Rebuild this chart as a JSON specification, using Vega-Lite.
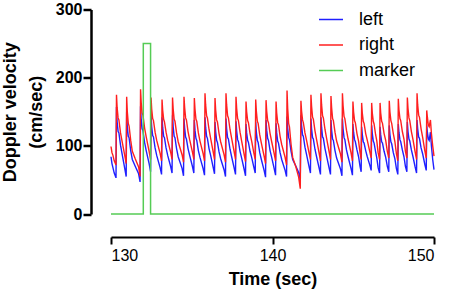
{
  "$schema": "https://vega.github.io/schema/vega-lite/v6.json",
  "autosize": "none",
  "width": 323,
  "height": 204.5,
  "padding": {"left": 111, "top": 9.5, "right": 16, "bottom": 80},
  "background": "white",
  "config": {
    "view": {"stroke": null},
    "font": "Liberation Sans",
    "axis": {"grid": false, "domainColor": "black", "tickColor": "black", "labelColor": "black", "titleColor": "black", "labelFont": "Liberation Sans", "titleFont": "Liberation Sans"}
  },
  "datasets": {
    "lr": [
      {"t":130.00,"left":84,"right":99},{"t":130.06,"left":74,"right":90},{"t":130.12,"left":68,"right":86},{"t":130.20,"left":60,"right":78},{"t":130.31,"left":53,"right":72},
      {"t":130.34,"left":157,"right":175},{"t":130.38,"left":135,"right":156},{"t":130.44,"left":121,"right":141},{"t":130.49,"left":119,"right":138},{"t":130.59,"left":101,"right":119},{"t":130.69,"left":88,"right":106},{"t":130.85,"left":67,"right":86},{"t":130.94,"left":55,"right":74},
      {"t":130.97,"left":150,"right":172},{"t":131.01,"left":128,"right":150},{"t":131.07,"left":114,"right":133},{"t":131.12,"left":112,"right":129},{"t":131.22,"left":93,"right":108},{"t":131.32,"left":80,"right":92},{"t":131.50,"left":70,"right":81},{"t":131.71,"left":59,"right":69},{"t":131.80,"left":47,"right":55},
      {"t":131.83,"left":158,"right":183},{"t":131.87,"left":138,"right":164},{"t":131.93,"left":125,"right":148},{"t":131.98,"left":122,"right":145},{"t":132.08,"left":105,"right":126},{"t":132.18,"left":93,"right":113},{"t":132.36,"left":74,"right":92},{"t":132.45,"left":62,"right":80},
      {"t":132.48,"left":145,"right":171},{"t":132.52,"left":128,"right":154},{"t":132.58,"left":115,"right":140},{"t":132.63,"left":113,"right":137},{"t":132.73,"left":97,"right":120},{"t":132.83,"left":86,"right":108},{"t":133.04,"left":68,"right":89},{"t":133.13,"left":58,"right":78},
      {"t":133.16,"left":142,"right":168},{"t":133.20,"left":127,"right":152},{"t":133.26,"left":114,"right":139},{"t":133.31,"left":112,"right":135},{"t":133.41,"left":97,"right":120},{"t":133.51,"left":86,"right":108},{"t":133.69,"left":70,"right":91},{"t":133.78,"left":60,"right":80},
      {"t":133.81,"left":145,"right":171},{"t":133.85,"left":128,"right":154},{"t":133.91,"left":114,"right":139},{"t":133.96,"left":112,"right":136},{"t":134.06,"left":96,"right":119},{"t":134.16,"left":84,"right":106},{"t":134.40,"left":67,"right":87},{"t":134.49,"left":56,"right":76},
      {"t":134.52,"left":140,"right":172},{"t":134.56,"left":126,"right":156},{"t":134.62,"left":113,"right":141},{"t":134.67,"left":110,"right":138},{"t":134.77,"left":96,"right":121},{"t":134.87,"left":86,"right":109},{"t":135.04,"left":70,"right":91},{"t":135.13,"left":60,"right":80},
      {"t":135.16,"left":138,"right":170},{"t":135.20,"left":123,"right":154},{"t":135.26,"left":111,"right":139},{"t":135.31,"left":108,"right":136},{"t":135.41,"left":93,"right":119},{"t":135.51,"left":83,"right":107},{"t":135.70,"left":67,"right":89},{"t":135.79,"left":57,"right":78},
      {"t":135.82,"left":142,"right":177},{"t":135.86,"left":127,"right":160},{"t":135.92,"left":114,"right":144},{"t":135.97,"left":111,"right":141},{"t":136.07,"left":96,"right":124},{"t":136.17,"left":86,"right":111},{"t":136.32,"left":69,"right":92},{"t":136.41,"left":59,"right":80},
      {"t":136.44,"left":135,"right":170},{"t":136.48,"left":121,"right":153},{"t":136.54,"left":108,"right":138},{"t":136.59,"left":105,"right":135},{"t":136.69,"left":91,"right":118},{"t":136.79,"left":81,"right":106},{"t":137.00,"left":65,"right":87},{"t":137.09,"left":55,"right":76},
      {"t":137.12,"left":140,"right":177},{"t":137.16,"left":125,"right":160},{"t":137.22,"left":112,"right":144},{"t":137.27,"left":110,"right":141},{"t":137.37,"left":95,"right":124},{"t":137.47,"left":84,"right":111},{"t":137.62,"left":68,"right":92},{"t":137.71,"left":58,"right":80},
      {"t":137.74,"left":136,"right":172},{"t":137.78,"left":122,"right":155},{"t":137.84,"left":109,"right":140},{"t":137.89,"left":106,"right":137},{"t":137.99,"left":92,"right":120},{"t":138.09,"left":82,"right":107},{"t":138.24,"left":66,"right":88},{"t":138.33,"left":56,"right":77},
      {"t":138.36,"left":132,"right":165},{"t":138.40,"left":119,"right":150},{"t":138.46,"left":108,"right":137},{"t":138.51,"left":105,"right":134},{"t":138.61,"left":92,"right":118},{"t":138.71,"left":83,"right":107},{"t":138.84,"left":69,"right":90},{"t":138.93,"left":60,"right":80},
      {"t":138.96,"left":135,"right":168},{"t":139.00,"left":120,"right":151},{"t":139.06,"left":108,"right":136},{"t":139.11,"left":105,"right":133},{"t":139.21,"left":90,"right":116},{"t":139.31,"left":80,"right":104},{"t":139.48,"left":64,"right":85},{"t":139.57,"left":54,"right":74},
      {"t":139.60,"left":138,"right":167},{"t":139.64,"left":123,"right":151},{"t":139.70,"left":111,"right":137},{"t":139.75,"left":108,"right":134},{"t":139.85,"left":93,"right":118},{"t":139.95,"left":83,"right":106},{"t":140.10,"left":67,"right":89},{"t":140.19,"left":57,"right":78},
      {"t":140.22,"left":133,"right":165},{"t":140.26,"left":119,"right":148},{"t":140.32,"left":107,"right":134},{"t":140.37,"left":104,"right":131},{"t":140.47,"left":90,"right":114},{"t":140.57,"left":80,"right":102},{"t":140.78,"left":64,"right":83},{"t":140.87,"left":55,"right":72},
      {"t":140.90,"left":143,"right":181},{"t":140.94,"left":126,"right":155},{"t":141.00,"left":112,"right":133},{"t":141.05,"left":109,"right":128},{"t":141.15,"left":92,"right":102},{"t":141.25,"left":80,"right":83},{"t":141.45,"left":70,"right":69},{"t":141.62,"left":61,"right":54},{"t":141.72,"left":50,"right":37},
      {"t":141.76,"left":145,"right":166},{"t":141.80,"left":130,"right":151},{"t":141.86,"left":116,"right":138},{"t":141.91,"left":114,"right":134},{"t":142.01,"left":98,"right":119},{"t":142.11,"left":87,"right":108},{"t":142.26,"left":70,"right":90},{"t":142.35,"left":60,"right":80},
      {"t":142.38,"left":140,"right":175},{"t":142.42,"left":125,"right":158},{"t":142.48,"left":112,"right":142},{"t":142.53,"left":110,"right":139},{"t":142.63,"left":95,"right":122},{"t":142.73,"left":84,"right":109},{"t":142.88,"left":68,"right":90},{"t":142.97,"left":58,"right":78},
      {"t":143.00,"left":142,"right":177},{"t":143.04,"left":127,"right":160},{"t":143.10,"left":113,"right":144},{"t":143.15,"left":111,"right":141},{"t":143.25,"left":96,"right":124},{"t":143.35,"left":85,"right":111},{"t":143.50,"left":68,"right":92},{"t":143.59,"left":58,"right":80},
      {"t":143.62,"left":138,"right":173},{"t":143.66,"left":123,"right":156},{"t":143.72,"left":110,"right":140},{"t":143.77,"left":108,"right":137},{"t":143.87,"left":93,"right":120},{"t":143.97,"left":82,"right":107},{"t":144.21,"left":66,"right":88},{"t":144.30,"left":56,"right":76},
      {"t":144.33,"left":140,"right":177},{"t":144.37,"left":125,"right":159},{"t":144.43,"left":112,"right":143},{"t":144.48,"left":109,"right":140},{"t":144.58,"left":94,"right":123},{"t":144.68,"left":84,"right":110},{"t":144.86,"left":67,"right":90},{"t":144.95,"left":57,"right":78},
      {"t":144.98,"left":132,"right":165},{"t":145.02,"left":120,"right":150},{"t":145.08,"left":109,"right":137},{"t":145.13,"left":106,"right":134},{"t":145.23,"left":94,"right":118},{"t":145.33,"left":84,"right":107},{"t":145.42,"left":70,"right":90},{"t":145.49,"left":62,"right":80},
      {"t":145.52,"left":128,"right":163},{"t":145.56,"left":117,"right":148},{"t":145.62,"left":106,"right":136},{"t":145.67,"left":104,"right":133},{"t":145.77,"left":93,"right":118},{"t":145.87,"left":84,"right":108},{"t":146.02,"left":72,"right":92},{"t":146.11,"left":64,"right":82},
      {"t":146.14,"left":130,"right":163},{"t":146.18,"left":118,"right":148},{"t":146.24,"left":107,"right":136},{"t":146.29,"left":104,"right":132},{"t":146.38,"left":92,"right":117},{"t":146.46,"left":82,"right":107},{"t":146.54,"left":68,"right":90},{"t":146.63,"left":60,"right":80},
      {"t":146.66,"left":128,"right":163},{"t":146.70,"left":116,"right":148},{"t":146.76,"left":106,"right":136},{"t":146.81,"left":104,"right":133},{"t":146.91,"left":92,"right":118},{"t":147.01,"left":83,"right":108},{"t":147.11,"left":70,"right":92},{"t":147.20,"left":62,"right":82},
      {"t":147.23,"left":130,"right":166},{"t":147.27,"left":117,"right":150},{"t":147.33,"left":106,"right":137},{"t":147.38,"left":103,"right":133},{"t":147.48,"left":90,"right":118},{"t":147.58,"left":81,"right":106},{"t":147.67,"left":67,"right":89},{"t":147.76,"left":58,"right":78},
      {"t":147.79,"left":132,"right":169},{"t":147.83,"left":120,"right":153},{"t":147.89,"left":109,"right":140},{"t":147.94,"left":106,"right":137},{"t":148.04,"left":94,"right":121},{"t":148.14,"left":84,"right":110},{"t":148.23,"left":70,"right":92},{"t":148.32,"left":62,"right":82},
      {"t":148.35,"left":135,"right":171},{"t":148.39,"left":121,"right":155},{"t":148.45,"left":110,"right":141},{"t":148.50,"left":107,"right":137},{"t":148.60,"left":94,"right":121},{"t":148.70,"left":84,"right":109},{"t":148.83,"left":69,"right":91},{"t":148.92,"left":60,"right":80},
      {"t":148.95,"left":138,"right":177},{"t":148.99,"left":125,"right":160},{"t":149.05,"left":113,"right":145},{"t":149.10,"left":111,"right":142},{"t":149.20,"left":97,"right":125},{"t":149.30,"left":88,"right":112},{"t":149.43,"left":73,"right":93},{"t":149.52,"left":64,"right":82},
      {"t":149.55,"left":130,"right":152},{"t":149.59,"left":120,"right":142},{"t":149.65,"left":110,"right":130},{"t":149.70,"left":108,"right":128},{"t":149.78,"left":120,"right":138},{"t":149.84,"left":100,"right":118},{"t":149.92,"left":80,"right":100},{"t":150.00,"left":65,"right":85}
    ],
    "mk": [
      {"t":130.0,"v":0,"series":"marker","i":0},
      {"t":132.0,"v":0,"series":"marker","i":1},
      {"t":132.0,"v":250,"series":"marker","i":2},
      {"t":132.45,"v":250,"series":"marker","i":3},
      {"t":132.45,"v":0,"series":"marker","i":4},
      {"t":150.0,"v":0,"series":"marker","i":5}
    ]
  },
  "encoding": {
    "x": {"field": "t", "type": "quantitative", "scale": {"domain": [130, 150], "nice": false, "zero": false},
      "axis": {"values": [130, 140, 150], "offset": 23, "domainWidth": 2, "tickWidth": 2, "tickSize": 7, "labelFontSize": 16, "labelPadding": 3, "title": "Time (sec)", "titleFontSize": 18, "titleFontWeight": "bold", "titlePadding": 7}},
    "y": {"field": "v", "type": "quantitative", "scale": {"domain": [0, 300], "nice": false},
      "axis": {"values": [0, 100, 200, 300], "offset": 20, "domainWidth": 2.5, "tickWidth": 2.5, "tickSize": 8, "labelFontSize": 16, "labelFontWeight": "bold", "labelPadding": 1, "title": ["Doppler velocity", "(cm/sec)"], "titleFontSize": 18, "titleFontWeight": "bold", "titleLineHeight": 26, "titlePadding": 10}},
    "color": {"field": "series", "type": "nominal",
      "scale": {"domain": ["left", "right", "marker"], "range": ["#1f1fff", "#ff1f1f", "#55cc55"]},
      "legend": {"title": null, "orient": "none", "legendX": 207, "legendY": -3, "symbolType": "stroke", "symbolSize": 576, "symbolStrokeWidth": 1.5, "labelFontSize": 18, "labelFont": "Liberation Sans", "labelOffset": 15, "rowPadding": 3.5, "labelColor": "black"}}
  },
  "layer": [
    {"data": {"name": "lr"}, "transform": [{"fold": ["left", "right"], "as": ["series", "v"]}],
      "mark": {"type": "line", "strokeWidth": 1.4, "interpolate": "linear"}},
    {"data": {"name": "mk"}, "mark": {"type": "line", "strokeWidth": 1.5}, "encoding": {"order": {"field": "i", "type": "quantitative"}}}
  ]
}
